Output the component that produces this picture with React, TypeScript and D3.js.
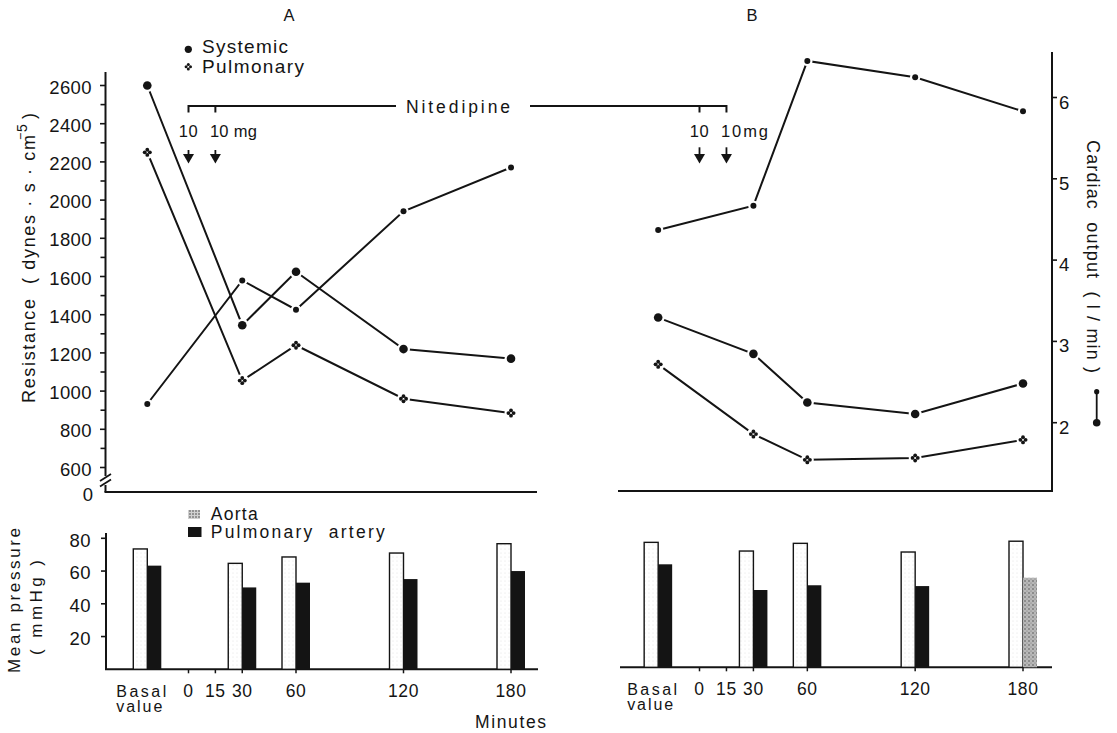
import React from 'react';
import * as d3 from 'd3';

const FONT = '"Liberation Sans", Arial, sans-serif';

// ---------- data ----------
const times: (string | number)[] = ['Basal', 30, 60, 120, 180];
const axisMinutes = [0, 15, 30, 60, 120, 180];
const doseMinutes = [0, 15];
const doseLabelsA = ['10', '10 mg'];
const doseLabelsB = ['10', '10mg'];
const resTicks = [600, 800, 1000, 1200, 1400, 1600, 1800, 2000, 2200, 2400, 2600];
const resMinor = [700, 900, 1100, 1300, 1500, 1700, 1900, 2100, 2300, 2500];
const coTicks = [2, 3, 4, 5, 6];
const pressTicks = [20, 40, 60, 80];

// Panel A (resistance in dynes·s·cm-5, cardiac output in l/min)
const sysA = [2600, 1345, 1625, 1220, 1170];
const pulA = [2250, 1055, 1240, 960, 885];
const coA = [2.23, 3.75, 3.39, 4.6, 5.14];
// Panel B
const sysB = [1385, 1195, 940, 880, 1040];
const pulB = [1140, 775, 640, 650, 745];
const coB = [4.37, 4.67, 6.45, 6.25, 5.83];
// Mean pressure (mmHg)
const aortaA = [73.5, 64.7, 68.6, 71, 76.7];
const paA = [63.3, 50, 52.9, 55.1, 60];
const aortaB = [76.3, 71, 75.7, 70.4, 77];
const paB = [62.9, 47.2, 50.1, 49.6, 54.7];

const BASAL = -23;
const tm = (t: string | number) => (t === 'Basal' ? BASAL : (t as number));

const xA = d3.scaleLinear().domain([0, 180]).range([188.5, 511]);
const xB = d3.scaleLinear().domain([0, 180]).range([699.5, 1023]);
const yRes = d3.scaleLinear().domain([600, 2600]).range([467.5, 85.5]);
const yCO = d3.scaleLinear().domain([2, 6]).range([422.7, 97.5]);
const yPA = d3.scaleLinear().domain([0, 80]).range([669.3, 538.3]);
const yPB = d3.scaleLinear().domain([0, 80]).range([667.3, 536.3]);

const lineGen = d3.line<[number, number]>();
const INK = '#141414';

function Dot({ x, y, r }: { x: number; y: number; r: number }) {
  return (
    <g>
      <circle cx={x} cy={y} r={r + 2.2} fill="#fff" />
      <circle cx={x} cy={y} r={r} fill={INK} />
    </g>
  );
}

function Cross({ x, y, s = 2.6, r = 1.9 }: { x: number; y: number; s?: number; r?: number }) {
  return (
    <g>
      <circle cx={x} cy={y} r={s + r + 2} fill="#fff" />
      {[[0, -s], [0, s], [-s, 0], [s, 0]].map(([dx, dy], i) => (
        <circle key={i} cx={x + dx} cy={y + dy} r={r} fill={INK} />
      ))}
    </g>
  );
}

function Series({ xs, ys, values, kind, r }: any) {
  const pts: [number, number][] = times.map((t, i) => [xs(tm(t)), ys(values[i])]);
  return (
    <g>
      <path d={lineGen(pts) || ''} fill="none" stroke={INK} strokeWidth={2} />
      {pts.map(([px, py], i) =>
        kind === 'cross' ? <Cross key={i} x={px} y={py} /> : <Dot key={i} x={px} y={py} r={r} />
      )}
    </g>
  );
}

function Bars({ xs, ys, aorta, pa, paFills }: any) {
  const w = 14;
  return (
    <g>
      {times.map((t, i) => {
        const cx = xs(tm(t));
        return (
          <g key={i}>
            <rect x={cx - w} y={ys(aorta[i])} width={w} height={ys(0) - ys(aorta[i])} fill="url(#light)" stroke={INK} strokeWidth={1.4} />
            <rect x={cx} y={ys(pa[i])} width={w} height={ys(0) - ys(pa[i])} fill={paFills ? paFills[i] : INK} />
          </g>
        );
      })}
    </g>
  );
}

function XAxisLabels({ xs, base }: any) {
  return (
    <g fontFamily={FONT} fill={INK}>
      {axisMinutes.map((m) => (
        <g key={m}>
          <line x1={xs(m)} x2={xs(m)} y1={base} y2={base + 4} stroke={INK} strokeWidth={1.5} />
          <text x={xs(m)} y={base + 28} textAnchor="middle" letterSpacing={0.6} fontSize={17.5}>{m}</text>
        </g>
      ))}
      <text x={xs(BASAL) - 31} y={base + 27.5} fontSize={16} textLength={50} lengthAdjust="spacing">Basal</text>
      <text x={xs(BASAL) - 31} y={base + 42.5} fontSize={16} textLength={46} lengthAdjust="spacing">value</text>
    </g>
  );
}

function Doses({ xs, labels, ytop }: any) {
  return (
    <g fontFamily={FONT} fontSize={16.5} fill={INK}>
      <text x={xs(doseMinutes[0])} y={136.7} textAnchor="middle" letterSpacing={0.5}>{labels[0]}</text>
      <text x={xs(doseMinutes[1]) - 5.5} y={136.7} textLength={47} lengthAdjust="spacing">{labels[1]}</text>
      {doseMinutes.map((m) => {
        const x = xs(m);
        return (
          <g key={m}>
            <line x1={x} x2={x} y1={ytop} y2={156} stroke={INK} strokeWidth={1.8} />
            <path d={`M${x - 5.5},${154} L${x + 5.5},${154} L${x},${163.5} Z`} fill={INK} />
          </g>
        );
      })}
    </g>
  );
}

export default function App() {
  const paBFills = paB.map((_, i) => (i === paB.length - 1 ? 'url(#stip)' : INK));
  return (
    <svg width={1117} height={733} style={{ position: 'absolute', left: 0, top: 0, background: '#fff' }}>
      <defs>
        <pattern id="stip" width={4} height={4} patternUnits="userSpaceOnUse">
          <rect width={4} height={4} fill="#b8b8b8" />
          <circle cx={1} cy={1} r={0.8} fill="#555" />
          <circle cx={3} cy={3} r={0.6} fill="#777" />
        </pattern>
        <pattern id="legst" width={3} height={3} patternUnits="userSpaceOnUse">
          <rect width={3} height={3} fill="#d0d0d0" />
          <circle cx={1} cy={1} r={0.8} fill="#444" />
        </pattern>
        <pattern id="light" width={4} height={4} patternUnits="userSpaceOnUse">
          <rect width={4} height={4} fill="#fff" />
          <circle cx={1} cy={1} r={0.5} fill="#ddd" />
        </pattern>
      </defs>

      {/* panel titles */}
      <g fontFamily={FONT} fontSize={16.5} fill={INK} textAnchor="middle">
        <text x={289} y={21}>A</text>
        <text x={752} y={21}>B</text>
      </g>

      {/* top legend */}
      <g fontFamily={FONT} fontSize={19} fill={INK}>
        <circle cx={188.3} cy={49.3} r={3.6} fill={INK} />
        <text x={202} y={53.3} textLength={86} lengthAdjust="spacing">Systemic</text>
        <Cross x={188.3} y={66.7} s={2.2} r={1.5} />
        <text x={202} y={73.3} textLength={102} lengthAdjust="spacing">Pulmonary</text>
      </g>

      {/* Nitedipine bracket */}
      <g stroke={INK} strokeWidth={2} fill="none">
        <path d={`M${xA(0)},112.5 V106 H396`} />
        <line x1={xA(15)} x2={xA(15)} y1={106} y2={112.5} />
        <path d={`M530,106 H${xB(15)} V112.5`} />
        <line x1={xB(0)} x2={xB(0)} y1={106} y2={112.5} />
      </g>
      <text x={406} y={113} fontFamily={FONT} fontSize={17.5} fill={INK} textLength={104} lengthAdjust="spacing">Nitedipine</text>
      <Doses xs={xA} labels={doseLabelsA} ytop={150} />
      <Doses xs={xB} labels={doseLabelsB} ytop={147.3} />

      {/* left resistance axis */}
      <g stroke={INK} strokeWidth={2}>
        <line x1={105.5} x2={105.5} y1={72} y2={476} />
        <line x1={105.5} x2={105.5} y1={485} y2={492} />
        <line x1={100} x2={111} y1={481} y2={474} strokeWidth={1.8} />
        <line x1={100} x2={111} y1={486.5} y2={479.5} strokeWidth={1.8} />
        <line x1={104.5} x2={537} y1={492} y2={492} />
        {resTicks.map((v) => (
          <line key={v} x1={100} x2={105.5} y1={yRes(v)} y2={yRes(v)} strokeWidth={1.6} />
        ))}
        {resMinor.map((v) => (
          <line key={v} x1={100.5} x2={105.5} y1={yRes(v)} y2={yRes(v)} strokeWidth={1.6} />
        ))}
      </g>
      <g fontFamily={FONT} fontSize={18.5} fill={INK} textAnchor="end">
        {resTicks.map((v) => (
          <text key={v} x={92} y={yRes(v) + 8} letterSpacing={0.4}>{v}</text>
        ))}
        <text x={93} y={501}>0</text>
      </g>
      <g transform="translate(35,403) rotate(-90)" fontFamily={FONT} fontSize={18} fill={INK}>
        <text x={0} y={0} textLength={268} lengthAdjust="spacing" style={{ whiteSpace: 'pre' }}>Resistance  ( dynes · s · cm</text>
        <text x={263} y={-10} fontSize={12.5}>−</text>
        <text x={271} y={-8} fontSize={14}>5</text>
        <text x={284} y={0}>)</text>
      </g>

      {/* right cardiac output axis (panel B) */}
      <g stroke={INK} strokeWidth={2}>
        <line x1={1052} x2={1052} y1={52} y2={491.5} />
        <line x1={618} x2={1053} y1={491} y2={491} />
        {coTicks.map((v) => (
          <line key={v} x1={1052} x2={1057} y1={yCO(v)} y2={yCO(v)} strokeWidth={1.6} />
        ))}
      </g>
      <g fontFamily={FONT} fontSize={18.5} fill={INK}>
        {coTicks.map((v) => (
          <text key={v} x={1059} y={yCO(v) + 11}>{v}</text>
        ))}
      </g>
      <g transform="translate(1087,140) rotate(90)" fontFamily={FONT} fontSize={18} fill={INK}>
        <text x={0} y={0} textLength={233} lengthAdjust="spacing" style={{ whiteSpace: 'pre' }}>Cardiac  output  ( l / min )</text>
      </g>
      <g>
        <circle cx={1096.7} cy={391.7} r={2.6} fill={INK} />
        <line x1={1096.7} x2={1096.7} y1={392} y2={421} stroke={INK} strokeWidth={1.8} />
        <circle cx={1096.7} cy={422.7} r={3.8} fill={INK} />
      </g>

      {/* series panel A */}
      <Series xs={xA} ys={yCO} values={coA} kind="dot" r={3} />
      <Series xs={xA} ys={yRes} values={pulA} kind="cross" />
      <Series xs={xA} ys={yRes} values={sysA} kind="dot" r={4.3} />
      {/* series panel B */}
      <Series xs={xB} ys={yCO} values={coB} kind="dot" r={3} />
      <Series xs={xB} ys={yRes} values={pulB} kind="cross" />
      <Series xs={xB} ys={yRes} values={sysB} kind="dot" r={4.3} />

      {/* bottom legend */}
      <g fontFamily={FONT} fontSize={17.5} fill={INK}>
        <rect x={188} y={510} width={12} height={9} fill="url(#legst)" />
        <text x={210.7} y={520} textLength={47} lengthAdjust="spacing">Aorta</text>
        <rect x={188} y={527} width={13.5} height={10} fill={INK} />
        <text x={210.7} y={538} textLength={174} lengthAdjust="spacing" style={{ whiteSpace: 'pre' }}>Pulmonary  artery</text>
      </g>

      {/* bottom panel A axes */}
      <g stroke={INK} strokeWidth={2}>
        <line x1={106} x2={106} y1={533} y2={670} />
        <line x1={105} x2={538} y1={669.3} y2={669.3} />
        {pressTicks.map((v) => (
          <line key={v} x1={101} x2={106} y1={yPA(v)} y2={yPA(v)} strokeWidth={1.6} />
        ))}
        <line x1={620} x2={1052} y1={667.3} y2={667.3} />
      </g>
      <g fontFamily={FONT} fontSize={18.5} fill={INK} textAnchor="end">
        {pressTicks.map((v) => (
          <text key={v} x={91} y={yPA(v) + 8.4} letterSpacing={0.4}>{v}</text>
        ))}
      </g>
      <g transform="translate(19.5,600.5) rotate(-90)" fontFamily={FONT} fontSize={17} fill={INK} textAnchor="middle">
        <text x={0} y={0} textLength={145} lengthAdjust="spacing">Mean pressure</text>
      </g>
      <g transform="translate(42,607.5) rotate(-90)" fontFamily={FONT} fontSize={17} fill={INK} textAnchor="middle">
        <text x={0} y={0} textLength={95} lengthAdjust="spacing" style={{ whiteSpace: 'pre' }}>( mmHg )</text>
      </g>

      <Bars xs={xA} ys={yPA} aorta={aortaA} pa={paA} />
      <Bars xs={xB} ys={yPB} aorta={aortaB} pa={paB} paFills={paBFills} />
      <XAxisLabels xs={xA} base={669.3} />
      <XAxisLabels xs={xB} base={667.3} />
      <text x={475} y={728} fontFamily={FONT} fontSize={17.5} fill={INK} textLength={71} lengthAdjust="spacing">Minutes</text>
    </svg>
  );
}
